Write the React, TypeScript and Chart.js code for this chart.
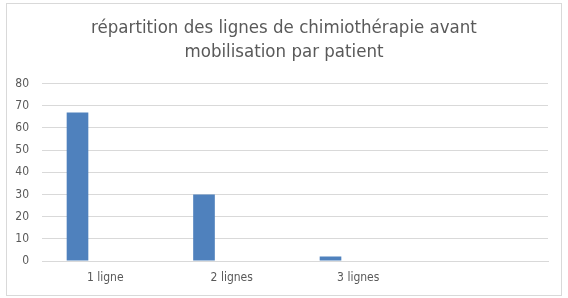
import React, { useEffect, useRef } from "react";
import { Chart, registerables } from "chart.js";

Chart.register(...registerables);

const categories = ["1 ligne", "2 lignes", "3 lignes", ""];
const series1 = [67, 30, 2, null];
const series2 = [null, null, null, null];
const series3 = [null, null, null, null];
const yTicks = [0, 10, 20, 30, 40, 50, 60, 70, 80];
const titleLines = ["répartition des lignes de chimiothérapie avant", "mobilisation par patient"];

const FONT = "'DejaVu Sans Condensed', 'DejaVu Sans', sans-serif";
const TEXT = "#595959";
const GRID = "#d9d9d9";
const BLUE = "#4f81bd";

export default function App() {
  const ref = useRef<HTMLCanvasElement | null>(null);
  useEffect(() => {
    if (!ref.current) return;
    const chart = new Chart(ref.current, {
      type: "bar",
      data: {
        labels: categories,
        datasets: [
          { label: "Série 1", data: series1, backgroundColor: BLUE },
          { label: "Série 2", data: series2, backgroundColor: BLUE },
          { label: "Série 3", data: series3, backgroundColor: BLUE },
        ],
      },
      options: {
        animation: false,
        responsive: false,
        maintainAspectRatio: false,
        layout: { padding: 0 },
        datasets: { bar: { categoryPercentage: 0.658, barPercentage: 0.78 } },
        plugins: {
          legend: { display: false },
          tooltip: { enabled: false },
          title: {
            display: true,
            text: titleLines,
            color: TEXT,
            font: { family: FONT, size: 18.5, weight: "normal", lineHeight: 1.3 },
            padding: { top: 12.5, bottom: 19 },
          },
        },
        scales: {
          x: {
            grid: { display: false, drawTicks: false },
            border: { display: true, color: GRID },
            ticks: { color: TEXT, font: { family: FONT, size: 12 }, padding: 10 },
            afterFit: (s: any) => { s.height = 34; },
          },
          y: {
            min: 0,
            max: 80,
            afterBuildTicks: (s: any) => { s.ticks = yTicks.map((v) => ({ value: v })); },
            grid: { color: GRID, drawTicks: false },
            border: { display: false },
            ticks: { color: TEXT, font: { family: FONT, size: 12 }, padding: 13 },
            afterFit: (s: any) => { s.width = 35; },
          },
          yRightSpace: {
            type: "linear",
            position: "right",
            display: true,
            min: 0,
            max: 80,
            grid: { display: false, drawTicks: false },
            border: { display: false },
            ticks: { display: false },
            afterFit: (s: any) => { s.width = 13; },
          },
        },
      },
    });
    return () => chart.destroy();
  }, []);
  return (
    <div
      style={{
        position: "fixed",
        left: 6,
        top: 3,
        width: 554,
        height: 291,
        border: "1px solid #d9d9d9",
        background: "#fff",
      }}
    >
      <canvas ref={ref} width={554} height={291} style={{ display: "block" }} />
    </div>
  );
}
